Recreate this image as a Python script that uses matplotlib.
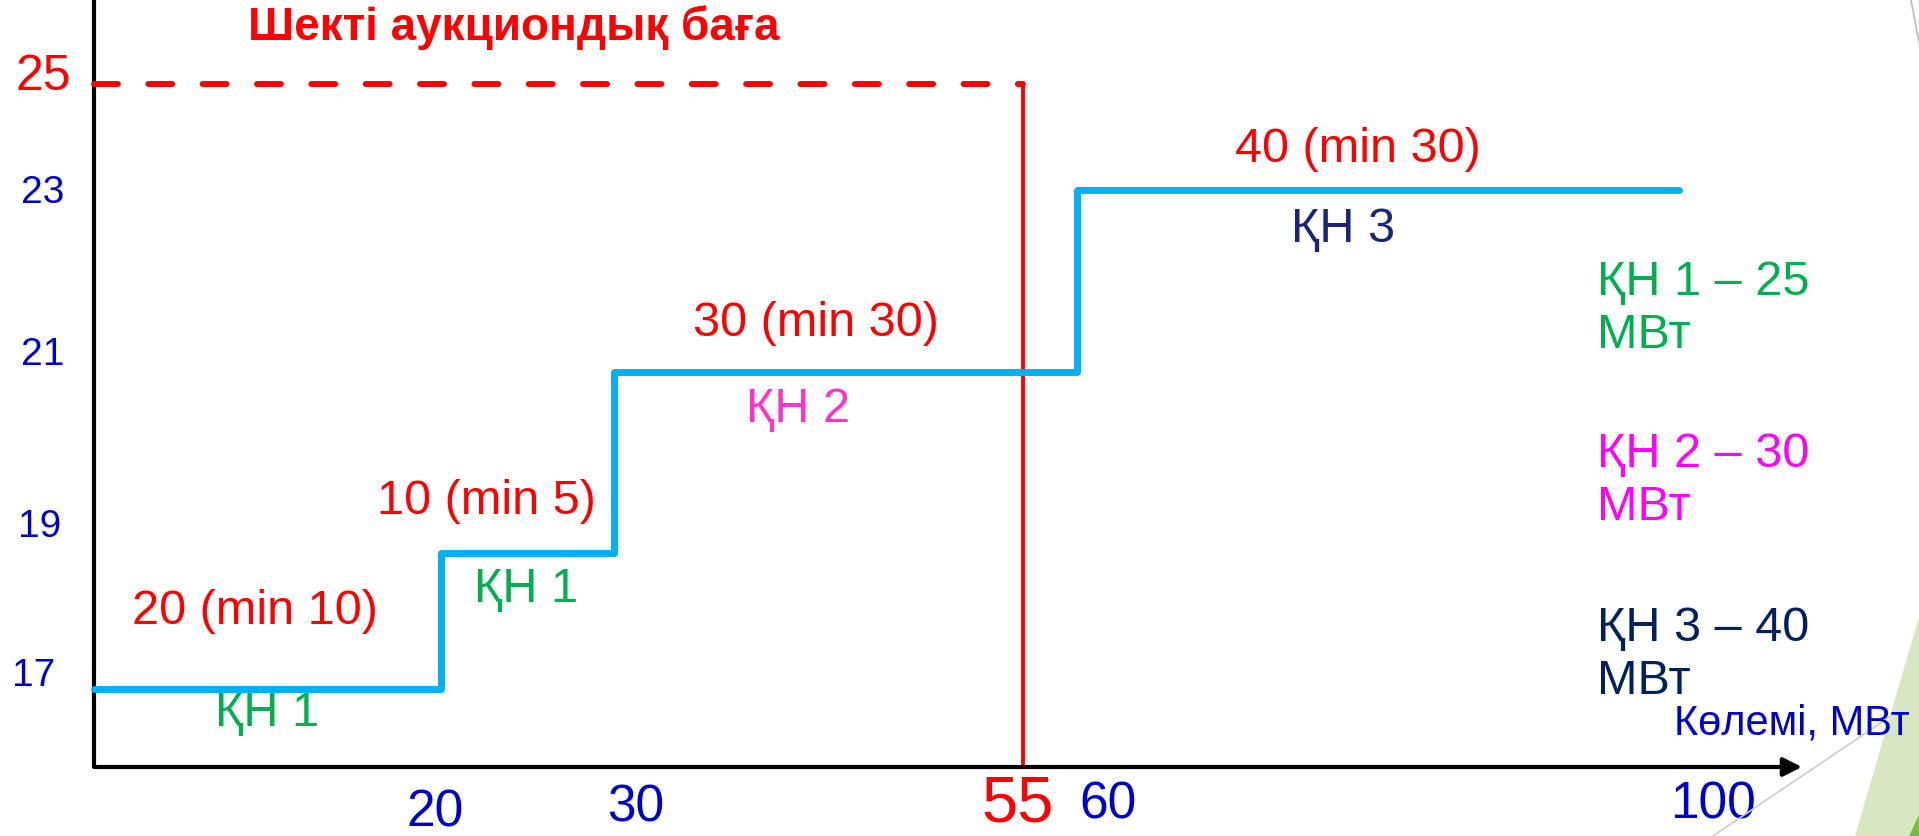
import numpy as np
import matplotlib
matplotlib.use("Agg")
from matplotlib import pyplot as plt
from matplotlib.patches import Polygon

plt.rcParams['font.family'] = ['Liberation Sans', 'DejaVu Sans']

# data
volume_edges = [0, 20, 30, 60, 100]
price_levels = [17, 19, 21, 23]
cap_price = 25
cap_volume = 55
x_ticks = [20, 30, 55, 60, 100]
y_ticks = [17, 19, 21, 23, 25]
bid_labels = ["20 (min 10)", "10 (min 5)", "30 (min 30)", "40 (min 30)"]
seller_labels = ["ҚН 1", "ҚН 1", "ҚН 2", "ҚН 3"]
legend_labels = ["ҚН 1 – 25\nМВт", "ҚН 2 – 30\nМВт", "ҚН 3 – 40\nМВт"]
axis_title = "Көлемі, МВт"
title = "Шекті аукциондық баға"

W, H = 1919, 836
RED = "#FF0000"
BLUE = "#0000CC"
STEP = "#00B0F0"

# the slide's axes are not evenly spaced, so map values through knots
xk_val = [-10, 0, 20, 30, 55, 60, 100, 120]
xk_pix = [-79, 94, 441, 614, 1023, 1077, 1679, 1979]
yk_val = [13, 17, 19, 21, 23, 25, 28]
yk_pix = [-125, 147, 283, 464, 646, 752, 911]


def xf(v):
    return np.interp(v, xk_val, xk_pix)


def xi(p):
    return np.interp(p, xk_pix, xk_val)


def yf(v):
    return np.interp(v, yk_val, yk_pix)


def yi(p):
    return np.interp(p, yk_pix, yk_val)


fig = plt.figure(figsize=(W / 100, H / 100), dpi=100)
ax = fig.add_axes([0, 0, 1, 1])
ax.set_xscale('function', functions=(xf, xi))
ax.set_yscale('function', functions=(yf, yi))
ax.set_xlim(xi(0), xi(W))
ax.set_ylim(yi(0), yi(H))
ax.axis('off')

axis_y = yi(69)
arrow_x = xi(1802)
top_y = yi(H)

# slide decorations
def px(x, y):
    return (x / W, 1 - y / H)

fig.patches.append(Polygon([px(1919, 617), px(1855, 836), px(1919, 836)],
                           closed=True, transform=fig.transFigure,
                           facecolor="#D8E6C2", edgecolor="none", zorder=0))
fig.patches.append(Polygon([px(1919, 815), px(1909, 836), px(1919, 836)],
                           closed=True, transform=fig.transFigure,
                           facecolor="#7AB648", edgecolor="none", zorder=0))
fig.lines.append(plt.Line2D([1713 / W, 1], [0, 1 - 697 / H], transform=fig.transFigure,
                            color="#CCCCCC", lw=1.2, zorder=0))
fig.lines.append(plt.Line2D([1911 / W, 1], [1, 1 - 42 / H], transform=fig.transFigure,
                            color="#BBBBBB", lw=1.2, zorder=0))

# axes
ax.plot([0, 0], [axis_y, top_y], color="black", lw=3, solid_capstyle='butt')
ax.annotate("", xy=(arrow_x, axis_y), xytext=(0, axis_y),
            arrowprops=dict(arrowstyle='-|>', color="black", lw=3,
                            mutation_scale=28, shrinkA=0, shrinkB=0))

# cap price
ax.plot([0, cap_volume], [cap_price, cap_price], color=RED, lw=4.3,
        dashes=(4.0, 5.1), dash_capstyle='round')
ax.plot([cap_volume, cap_volume], [axis_y, cap_price], color=RED, lw=2.8)

# supply curve
ax.step(volume_edges, price_levels + [price_levels[-1]], where='post',
        color=STEP, lw=5, solid_capstyle='round', solid_joinstyle='round', zorder=3)

# tick labels
x_tick_style = {20: (-6, -46, BLUE, 37), 30: (22, -41, BLUE, 37), 55: (-5, -38, RED, 47),
                60: (31, -38, BLUE, 37), 100: (34, -38, BLUE, 37)}
for v in x_ticks:
    dx, dy, c, s = x_tick_style[v]
    ax.annotate(str(v), xy=(v, axis_y), xytext=(dx, dy), textcoords='offset pixels',
                ha='center', va='center', color=c, fontsize=s)

y_tick_style = {17: (-60, 13, BLUE, 28), 19: (-54, 26, BLUE, 28), 21: (-51, 17, BLUE, 28),
                23: (-51, -3, BLUE, 28), 25: (-51, 7, RED, 36)}
for v in y_ticks:
    dx, dy, c, s = y_tick_style[v]
    ax.annotate(str(v), xy=(0, v), xytext=(dx, dy), textcoords='offset pixels',
                ha='center', va='center', color=c, fontsize=s)


def ftext(x, y, s, **kw):
    fig.text(x / W, 1 - y / H, s, **kw)


ftext(514, 28, title, color=RED, fontsize=33, fontweight='bold', ha='center', va='center')

bid_pos = [(255, 612), (486, 502), (816, 324), (1358, 149)]
for (x, y), s in zip(bid_pos, bid_labels):
    ftext(x, y, s, color=RED, fontsize=35, ha='center', va='center')

seller_pos = [(267, 714), (526, 589), (798, 410), (1343, 230)]
seller_colors = ["#00B050", "#00B050", "#FF33CC", "#1A237E"]
for (x, y), s, c in zip(seller_pos, seller_labels, seller_colors):
    ftext(x, y, s, color=c, fontsize=35, ha='center', va='center')

legend_pos = [(1597, 309), (1597, 481), (1597, 655)]
legend_colors = ["#00B050", "#FF00FF", "#002060"]
for (x, y), s, c in zip(legend_pos, legend_labels, legend_colors):
    ftext(x, y, s, color=c, fontsize=35, ha='left', va='center', linespacing=1.22)

ftext(1674, 724, axis_title, color=BLUE, fontsize=30, ha='left', va='center')

fig.savefig("out.png", dpi=100)
